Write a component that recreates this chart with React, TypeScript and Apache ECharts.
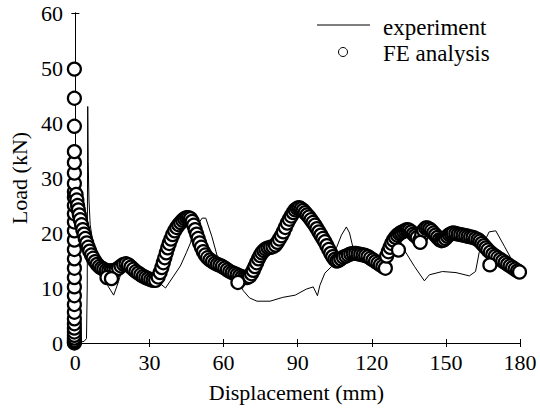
import React, { useEffect, useRef } from "react";
import * as echarts from "echarts";

// ---- tick values ----
const xTicks = [0, 30, 60, 90, 120, 150, 180];

// ---- experiment (displacement mm, load kN) ----
const expDisp = [0, 3.5, 4.5, 4.8, 5.0, 5.2, 5.5, 6.0, 7.0, 8.0, 9.0, 10.0, 11.0, 13.0, 15.5, 17.5, 19.0, 20.5, 22.0, 24.0, 27.0, 30.0, 33.0, 36.5, 39.5, 42.5, 45.0, 46.6, 48.0, 51.3, 52.8, 55.3, 57.3, 60.0, 63.0, 66.0, 68.0, 70.5, 73.5, 78.8, 84.0, 89.0, 93.5, 96.3, 98.0, 99.0, 101.0, 103.7, 105.7, 107.7, 109.7, 111.0, 112.3, 114.3, 117.0, 120.0, 123.0, 125.0, 126.5, 128.5, 130.5, 133.3, 137.3, 141.3, 143.3, 148.6, 154.1, 159.5, 162.0, 163.5, 167.5, 170.2, 173.8, 177.8, 180.0];
const expLoad = [0, 0.3, 0.8, 10.0, 43.0, 33.0, 26.0, 21.5, 18.5, 16.5, 15.0, 13.8, 12.2, 10.5, 8.7, 11.2, 13.6, 14.3, 14.0, 13.2, 12.4, 11.8, 11.3, 10.0, 12.0, 14.0, 16.5, 18.2, 20.5, 22.7, 22.7, 19.3, 16.0, 14.0, 12.6, 11.2, 9.5, 8.2, 7.6, 7.6, 8.3, 8.7, 9.8, 10.2, 8.6, 10.5, 12.7, 13.9, 17.3, 19.6, 21.1, 20.0, 17.5, 16.6, 15.8, 15.0, 14.3, 14.0, 15.5, 18.0, 19.5, 16.8, 13.9, 11.3, 12.4, 13.0, 12.8, 12.2, 13.0, 16.5, 20.2, 20.4, 17.5, 14.2, 12.8];

// ---- FE analysis ----
const feStackDisp = -0.4;
const feStackLoad = [0, 0.2, 0.5, 0.9, 1.4, 2.0, 2.7, 3.5, 4.4, 5.6, 7.0, 8.6, 10.2, 11.9, 13.6, 15.3, 17.0, 18.7, 20.4, 22.0, 23.5, 25.0, 26.5, 27.5, 29.0, 30.9, 32.8, 34.8, 39.4, 44.5, 49.8];

const feSegmentA: [number, number][] = [
  [0.3, 27.0], [0.6, 26.0], [0.9, 25.0], [1.2, 24.2], [1.6, 23.3], [2.0, 22.4], [2.5, 21.5], [3.0, 20.6], [3.5, 19.8], [4.0, 19.0],
  [4.6, 18.2], [5.2, 17.4], [5.8, 16.7], [6.5, 16.0], [7.2, 15.4], [8.0, 14.8], [8.8, 14.3], [9.7, 13.9], [10.6, 13.6], [11.5, 13.4],
  [12.5, 13.2], [13.5, 13.1], [14.5, 13.1], [15.5, 13.2], [16.5, 13.3], [17.5, 13.6], [18.5, 14.0], [19.5, 14.3], [20.5, 14.4], [21.5, 14.2],
  [22.5, 13.8], [23.5, 13.4], [24.5, 13.0], [25.5, 12.7], [26.5, 12.4], [27.5, 12.1], [28.5, 11.9], [29.5, 11.7], [30.5, 11.5], [31.5, 11.4],
  [32.5, 11.4], [12.8, 11.9], [14.6, 11.7],
];

const feSegmentB: [number, number][] = [
  [33.5, 12.0], [34.3, 12.8], [35.0, 13.7], [35.6, 14.6], [36.2, 15.5], [36.8, 16.4], [37.4, 17.3], [38.0, 18.1], [38.7, 18.9], [39.4, 19.7],
  [40.2, 20.4], [41.0, 21.0], [41.8, 21.5], [42.6, 21.9], [43.4, 22.3], [44.2, 22.6], [45.0, 22.8], [45.8, 22.8], [46.6, 22.6], [47.3, 22.1],
  [47.9, 21.4], [48.5, 20.6], [49.1, 19.8], [49.7, 19.0], [50.3, 18.2], [51.0, 17.4], [51.8, 16.6], [52.6, 16.0], [53.5, 15.5], [54.5, 15.1],
  [55.5, 14.8], [56.5, 14.5], [57.5, 14.3], [58.5, 14.1], [59.5, 13.9], [60.5, 13.6], [61.5, 13.3], [62.5, 13.0], [63.5, 12.8], [64.5, 12.6],
  [65.5, 12.4], [66.5, 12.2], [67.5, 12.0], [68.5, 11.9], [69.5, 11.9], [70.5, 12.1], [71.3, 12.6], [72.0, 13.2], [72.7, 13.9], [73.4, 14.6],
  [74.1, 15.3], [74.8, 15.9], [75.5, 16.4], [76.3, 16.8], [77.1, 17.1], [78.0, 17.3], [79.0, 17.4], [80.0, 17.5], [81.0, 17.8], [81.8, 18.3],
  [82.6, 18.9], [83.4, 19.5], [84.2, 20.2], [85.0, 21.0], [85.8, 21.8], [86.6, 22.5], [87.4, 23.1], [88.2, 23.7], [89.0, 24.2], [89.8, 24.5],
  [90.6, 24.6], [91.4, 24.4], [92.2, 24.1], [93.0, 23.7], [93.8, 23.3], [94.6, 22.9], [95.4, 22.4], [96.2, 21.9], [97.0, 21.4], [97.8, 20.8],
  [98.6, 20.2], [99.4, 19.6], [100.2, 19.0], [101.0, 18.4], [101.8, 17.7], [102.6, 17.0], [103.4, 16.3], [104.2, 15.7], [105.0, 15.2], [105.8, 14.9],
  [106.6, 15.0], [107.5, 15.3], [108.5, 15.6], [109.5, 15.8], [110.5, 16.0], [111.5, 16.2], [112.5, 16.3], [113.5, 16.3], [114.5, 16.2], [115.5, 16.1],
  [116.5, 16.0], [117.5, 15.9], [118.5, 15.7], [119.5, 15.4], [120.5, 15.1], [121.5, 14.8], [122.5, 14.5], [123.5, 14.2], [124.5, 13.9], [125.5, 13.6],
  [65.8, 11.0],
];

const feSegmentC: [number, number][] = [
  [126.0, 15.8], [126.7, 16.6], [127.4, 17.4], [128.1, 18.1], [128.8, 18.7], [129.6, 19.2], [130.4, 19.6], [131.2, 19.9], [132.0, 20.1], [132.8, 20.3],
  [133.6, 20.5], [134.4, 20.6], [135.2, 20.5], [136.0, 20.2], [136.8, 19.8], [137.6, 19.5], [138.4, 19.2], [139.4, 18.6], [140.2, 19.6], [141.0, 20.5],
  [141.8, 20.9], [142.6, 20.9], [143.4, 20.7], [144.2, 20.4], [145.0, 20.0], [145.8, 19.6], [146.6, 19.2], [147.4, 18.8], [148.2, 18.6], [149.0, 18.7],
  [149.8, 19.0], [150.6, 19.4], [151.4, 19.7], [152.2, 19.9], [153.0, 20.0], [154.0, 19.9], [155.0, 19.8], [156.0, 19.7], [157.0, 19.6], [158.0, 19.5],
  [159.0, 19.4], [160.0, 19.3], [161.0, 19.2], [162.0, 19.0], [163.0, 18.8], [163.8, 18.5], [164.6, 18.1], [165.4, 17.7], [166.2, 17.3], [167.0, 16.9],
  [168.0, 16.5], [169.0, 16.1], [170.0, 15.8], [171.0, 15.5], [172.0, 15.2], [173.0, 14.9], [174.0, 14.6], [175.0, 14.3], [176.0, 14.0], [177.0, 13.7],
  [178.0, 13.4], [179.0, 13.1], [179.8, 12.9], [130.8, 16.9], [139.6, 18.3], [167.8, 14.2],
];

const legendLabels = ["experiment", "FE analysis"];

const FONT = "Liberation Serif";

export default function App() {
  const ref = useRef<HTMLDivElement>(null);

  useEffect(() => {
    if (!ref.current) return;
    const chart = echarts.init(ref.current, null, { renderer: "svg" });

    const expData = expDisp.map((d, i) => [d, expLoad[i]]);
    const feData = [
      ...feStackLoad.map((v) => [feStackDisp, v]),
      ...feSegmentA,
      ...feSegmentB,
      ...feSegmentC,
    ];

    const axisLine = { show: true, lineStyle: { color: "#000", width: 1 } };
    const labelStyle = { color: "#000", fontSize: 22, fontFamily: FONT };

    const option: any = {
      animation: false,
      backgroundColor: "#fff",
      textStyle: { fontFamily: FONT },
      grid: { left: 72, right: 20, top: 13, bottom: 71, containLabel: false },
      xAxis: [
        {
          type: "value",
          min: -1,
          max: 180,
          position: "bottom",
          axisLine,
          axisTick: { show: true, inside: true, length: 4, customValues: xTicks, lineStyle: { color: "#000" } },
          axisLabel: { ...labelStyle, margin: 8, customValues: xTicks },
          splitLine: { show: false },
          name: "Displacement (mm)",
          nameLocation: "middle",
          nameGap: 38,
          nameTextStyle: { ...labelStyle },
        },
        {
          type: "value",
          min: -1,
          max: 180,
          position: "top",
          axisLine,
          axisTick: { show: true, inside: true, length: 4, customValues: xTicks, lineStyle: { color: "#000" } },
          axisLabel: { show: false },
          splitLine: { show: false },
        },
      ],
      yAxis: [
        {
          type: "value",
          min: 0,
          max: 60,
          interval: 10,
          position: "left",
          axisLine,
          axisTick: { show: true, inside: true, length: 4, lineStyle: { color: "#000" } },
          axisLabel: { ...labelStyle, margin: 10 },
          splitLine: { show: false },
          name: "Load (kN)",
          nameLocation: "middle",
          nameGap: 37,
          nameTextStyle: { ...labelStyle },
        },
        {
          type: "value",
          min: 0,
          max: 60,
          interval: 10,
          position: "right",
          axisLine,
          axisTick: { show: true, inside: true, length: 4, lineStyle: { color: "#000" } },
          axisLabel: { show: false },
          splitLine: { show: false },
        },
      ],
      series: [
        {
          name: legendLabels[0],
          type: "line",
          data: expData,
          showSymbol: false,
          symbol: "none",
          lineStyle: { color: "#000", width: 1 },
          z: 2,
        },
        {
          name: legendLabels[1],
          type: "scatter",
          data: feData,
          symbol: "circle",
          symbolSize: 13,
          itemStyle: { color: "#fff", borderColor: "#000", borderWidth: 2.2, opacity: 1 },
          z: 3,
        },
      ],
      graphic: [
        { type: "line", shape: { x1: 317, y1: 25, x2: 370, y2: 25 }, style: { stroke: "#000", lineWidth: 1.2 } },
        { type: "text", x: 383, y: 27, style: { text: legendLabels[0], fill: "#000", font: `23px ${FONT}`, textVerticalAlign: "middle" } },
        { type: "circle", shape: { cx: 343, cy: 52, r: 4.5 }, style: { fill: "#fff", stroke: "#000", lineWidth: 1 } },
        { type: "text", x: 383, y: 53, style: { text: legendLabels[1], fill: "#000", font: `23px ${FONT}`, textVerticalAlign: "middle" } },
      ],
    };

    chart.setOption(option);
    return () => chart.dispose();
  }, []);

  return (
    <div
      ref={ref}
      style={{ position: "absolute", left: 0, top: 0, width: 540, height: 414, background: "#fff" }}
    />
  );
}
